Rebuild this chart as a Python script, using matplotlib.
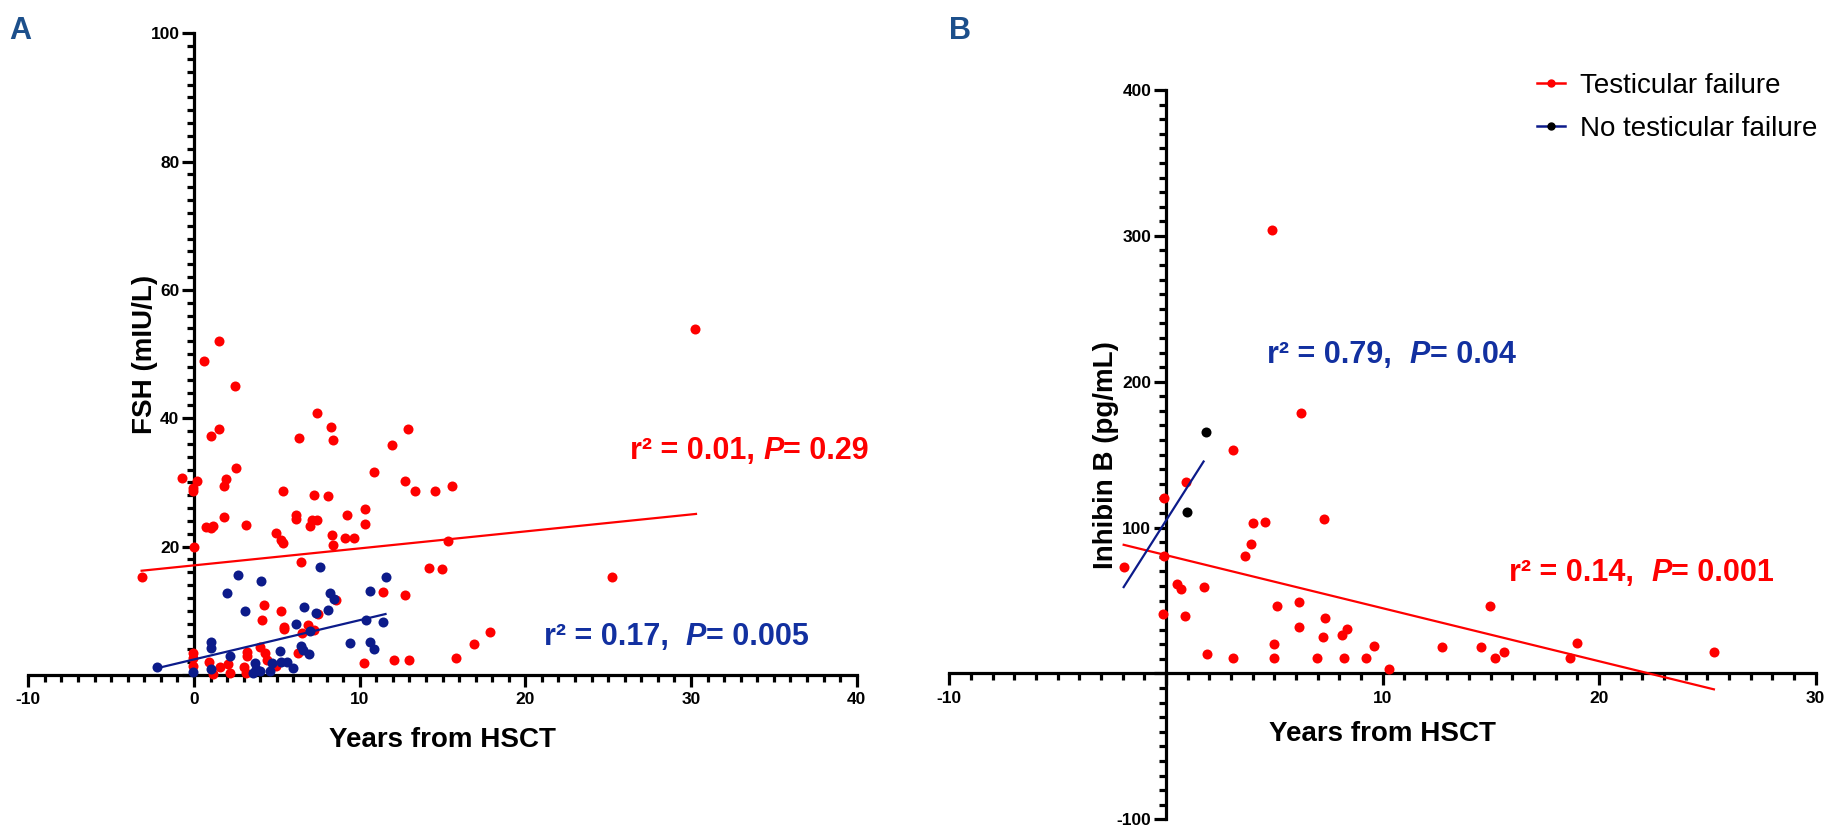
import matplotlib
matplotlib.use("Agg")
import matplotlib.pyplot as plt
from matplotlib.lines import Line2D
from matplotlib.ticker import MultipleLocator, FuncFormatter

plt.rcParams['font.family'] = ['Liberation Sans', 'DejaVu Sans']
plt.rcParams['font.weight'] = 'bold'

# ---------------- Data: Panel A (FSH) ----------------
a_red_x = [-3.16, -0.7, -0.06, -0.06, 0.2, 0.0, -0.06, -0.06, -0.06, 1.0, 1.54, 0.74, 1.0, 1.12,
           1.8, 1.84, 1.96, 2.52, 3.14, 0.9, 1.12, 1.6, 2.06, 2.16, 3.0, 3.16, 3.2, 3.2, 4.0, 4.2,
           4.08, 4.3, 4.4, 4.96, 4.96, 5.26, 5.36, 5.36, 5.24, 5.46, 5.46, 6.16, 6.16, 6.36, 6.44,
           6.26, 6.54, 6.86, 7.0, 7.14, 7.4, 7.26, 7.4, 7.26, 7.5, 8.1, 8.24, 8.4, 8.36, 8.4, 8.6,
           9.1, 9.64, 9.24, 10.3, 10.34, 10.84, 10.26, 11.4, 11.96, 12.1, 12.76, 12.76, 12.9, 12.96,
           13.36, 14.2, 14.54, 14.94, 15.36, 15.6, 15.84, 16.9, 17.84, 25.24, 30.26, 0.6, 1.5, 2.46]
a_red_y = [15.3, 30.75, 29.2, 28.7, 30.3, 19.9, 3.4, 2.7, 1.45, 37.3, 38.4, 23.1, 22.9, 23.2,
           24.6, 29.4, 30.6, 32.2, 23.3, 2.0, 0.16, 1.3, 1.7, 0.36, 1.3, 0.36, 3.6, 2.9, 4.3, 10.9,
           8.6, 3.4, 2.3, 1.45, 22.2, 21.1, 20.5, 28.6, 10.0, 7.5, 7.1, 24.9, 24.3, 37.0, 17.6,
           3.5, 6.5, 7.8, 23.2, 24.2, 24.2, 28.1, 40.8, 7.0, 9.5, 27.9, 38.7, 36.6, 21.8, 20.3, 11.7,
           21.4, 21.4, 25.0, 25.9, 23.6, 31.6, 1.9, 12.9, 35.8, 2.3, 12.5, 30.2, 38.3, 2.3,
           28.6, 16.6, 28.6, 16.5, 20.9, 29.5, 2.6, 4.9, 6.7, 15.2, 53.9, 48.9, 52.0, 45.1]

a_blue_x = [-2.26, -0.06, 1.0, 1.0, 1.04, 2.2, 2.0, 2.64, 3.1, 4.04, 3.7, 3.76, 4.0, 3.54, 4.6,
            4.7, 5.2, 5.26, 5.64, 6.0, 6.16, 6.46, 6.6, 6.96, 6.66, 7.0, 7.36, 7.6, 8.1, 8.2,
            8.46, 9.4, 10.4, 10.6, 10.86, 10.64, 11.4, 11.6]
a_blue_y = [1.3, 0.5, 5.2, 4.2, 0.9, 3.0, 12.8, 15.6, 9.9, 14.7, 1.8, 1.0, 0.7, 0.36, 0.7,
            1.8, 3.8, 2.0, 2.0, 1.1, 7.9, 4.5, 3.9, 3.2, 10.6, 6.8, 9.6, 16.9, 10.2, 12.8,
            11.8, 5.0, 8.6, 5.2, 4.1, 13.1, 8.3, 15.3]

a_red_fit_x = [-3.16, 30.3]
a_red_fit_y = [16.25, 25.1]
a_blue_fit_x = [-2.26, 11.56]
a_blue_fit_y = [1.04, 9.5]

# ---------------- Data: Panel B (Inhibin B) ----------------
b_red_x = [6.23, 3.12, 0.95, -0.1, -1.95, -0.1, 0.5, 0.72, 1.74, -0.12, 0.9, 1.9, 3.08, 3.65,
           3.95, 4.03, 4.57, 4.97, 4.97, 5.15, 6.15, 6.15, 6.97, 7.3, 7.35, 7.26, 8.15, 8.34,
           8.2, 9.23, 9.6, 10.3, 14.97, 12.77, 14.57, 15.18, 15.63, 18.64, 18.97, 25.3, 4.92]
b_red_y = [178.8, 153.1, 131.0, 120.0, 72.9, 80.4, 61.5, 58.1, 59.0, 41.0, 39.2, 13.2, 10.3, 80.4,
           88.8, 103.0, 103.6, 20.0, 10.3, 46.0, 49.2, 31.9, 10.3, 105.9, 38.0, 25.1, 26.2, 30.8,
           10.3, 10.3, 19.1, 3.0, 46.0, 18.2, 18.2, 10.3, 15.0, 10.3, 21.0, 15.0, 303.7]
b_black_x = [0.97, 1.85]
b_black_y = [110.9, 165.8]

b_red_fit_x = [-1.95, 25.3]
b_red_fit_y = [88.2, -10.9]
b_blue_fit_x = [-1.95, 1.74]
b_blue_fit_y = [59.2, 145.3]

legend_labels = ["Testicular failure", "No testicular failure"]
xlabel = "Years from HSCT"
ylabel_a = "FSH (mIU/L)"
ylabel_b = "Inhibin B (pg/mL)"

# ---------------- Styling ----------------
RED = '#fe0000'
NAVY = '#0c1b8a'
TXT_BLUE = '#1230a0'
LETTER = '#1c4f8b'
W, H = 1839, 826

fig = plt.figure(figsize=(W / 100, H / 100), dpi=100)

def px_axes(x0, x1, y_top, y_bot):
    return fig.add_axes([x0 / W, 1 - y_bot / H, (x1 - x0) / W, (y_bot - y_top) / H])

axA = px_axes(28.3, 856.7, 33.3, 675)
axB = px_axes(949.3, 1815.7, 90, 819.3)

def style_axes(ax):
    for s in ['top', 'right']:
        ax.spines[s].set_visible(False)
    for s in ['left', 'bottom']:
        ax.spines[s].set_linewidth(2.3)
    ax.spines['left'].set_position(('data', 0))
    ax.tick_params(which='major', direction='out', length=8.5, width=2.3,
                   labelsize=12.5)
    ax.tick_params(which='minor', direction='out', length=5, width=2.3)
    ax.tick_params(axis='x', which='major', pad=4)
    ax.tick_params(axis='y', which='major', pad=2)
    ax.set_facecolor('none')

def hide_zero(v, pos):
    if abs(v) < 1e-9:
        return ''
    return '%d' % v

def fmt_all(v, pos):
    return '%d' % v

# ---------------- Panel A ----------------
axA.set_xlim(-10, 40)
axA.set_ylim(0, 100)
axA.scatter(a_red_x, a_red_y, s=52, color=RED, linewidths=0, zorder=4, clip_on=False)
axA.scatter(a_blue_x, a_blue_y, s=52, color=NAVY, linewidths=0, zorder=4, clip_on=False)
axA.plot(a_red_fit_x, a_red_fit_y, color=RED, lw=1.6, zorder=5)
axA.plot(a_blue_fit_x, a_blue_fit_y, color=NAVY, lw=1.6, zorder=5)
axA.xaxis.set_major_locator(MultipleLocator(10))
axA.xaxis.set_minor_locator(MultipleLocator(1))
axA.yaxis.set_major_locator(MultipleLocator(20))
axA.yaxis.set_minor_locator(MultipleLocator(2))
axA.xaxis.set_major_formatter(FuncFormatter(fmt_all))
axA.yaxis.set_major_formatter(FuncFormatter(hide_zero))
style_axes(axA)

# ---------------- Panel B ----------------
axB.set_xlim(-10, 30)
axB.set_ylim(-100, 400)
axB.scatter(b_red_x, b_red_y, s=52, color=RED, linewidths=0, zorder=4, clip_on=False)
axB.scatter(b_black_x, b_black_y, s=52, color='black', linewidths=0, zorder=4, clip_on=False)
axB.plot(b_red_fit_x, b_red_fit_y, color=RED, lw=1.6, zorder=5)
axB.plot(b_blue_fit_x, b_blue_fit_y, color=NAVY, lw=1.6, zorder=5)
axB.spines['bottom'].set_position(('data', 0))
axB.xaxis.set_major_locator(MultipleLocator(10))
axB.xaxis.set_minor_locator(MultipleLocator(1))
axB.yaxis.set_major_locator(MultipleLocator(100))
axB.yaxis.set_minor_locator(MultipleLocator(10))
axB.xaxis.set_major_formatter(FuncFormatter(hide_zero))
axB.yaxis.set_major_formatter(FuncFormatter(hide_zero))
style_axes(axB)

# ---------------- Axis labels ----------------
for ax, yl in [(axA, ylabel_a), (axB, ylabel_b)]:
    ax.set_xlabel(xlabel, fontsize=20, fontweight='bold')
    ax.set_ylabel(yl, fontsize=20, fontweight='bold')

axA.xaxis.set_label_coords(442.5 / W, 1 - 727 / H, transform=fig.transFigure)
axB.xaxis.set_label_coords(1382.5 / W, 1 - 721 / H, transform=fig.transFigure)
axA.yaxis.set_label_coords(158 / W, 1 - 354.5 / H, transform=fig.transFigure)
axB.yaxis.set_label_coords(1119 / W, 1 - 455 / H, transform=fig.transFigure)

# ---------------- Stats annotations ----------------
def stat_text(ax, x, y, part1, part3, color):
    kw = dict(fontsize=22, fontweight='bold', color=color, va='bottom', ha='left')
    t1 = ax.text(x, y, part1, **kw)
    t2 = ax.annotate('P', xy=(1, 0), xycoords=t1, fontstyle='italic', **kw)
    ax.annotate(part3, xy=(1, 0), xycoords=t2, **kw)

stat_text(axA, 26.3, 32.5, 'r\u00b2 = 0.01, ', '= 0.29', RED)
stat_text(axA, 21.1, 3.66, 'r\u00b2 = 0.17,  ', '= 0.005', TXT_BLUE)
stat_text(axB, 4.69, 208.1, 'r\u00b2 = 0.79,  ', '= 0.04', TXT_BLUE)
stat_text(axB, 15.85, 58.4, 'r\u00b2 = 0.14,  ', '= 0.001', RED)

# ---------------- Legend ----------------
handles = [Line2D([0], [0], color=RED, lw=1.8, marker='o', markersize=5,
                  markerfacecolor=RED, markeredgecolor=RED),
           Line2D([0], [0], color=NAVY, lw=1.8, marker='o', markersize=5,
                  markerfacecolor='black', markeredgecolor='black')]
axB.legend(handles, legend_labels, loc='upper left',
           bbox_to_anchor=(1537 / W, 1 - 73 / H), bbox_transform=fig.transFigure,
           frameon=False, borderaxespad=0, borderpad=0,
           prop={'size': 20, 'weight': 'normal'},
           handlelength=1.0, handletextpad=0.55, labelspacing=0.62)

# ---------------- Panel letters ----------------
fig.text(9 / W, 1 - 39 / H, 'A', fontsize=22, fontweight='bold', color=LETTER,
         va='baseline', ha='left')
fig.text(949 / W, 1 - 39 / H, 'B', fontsize=22, fontweight='bold', color=LETTER,
         va='baseline', ha='left')

fig.savefig('out.png', dpi=100)
